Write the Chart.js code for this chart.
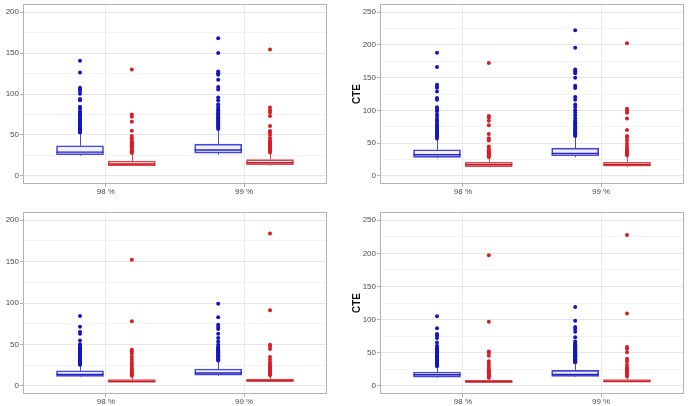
<!DOCTYPE html>
<html>
<head>
<meta charset="utf-8">
<script src="https://cdn.jsdelivr.net/npm/chart.js@4.4.1/dist/chart.umd.min.js"></script>
<style>
    body { margin: 0; width: 688px; height: 406px; background: #fff; position: relative; overflow: hidden; }
    .panel { position: absolute; }
</style>
</head>
<body>
<div class="panel" style="left:-13px;top:0"><canvas id="varTop" width="357" height="203"></canvas></div>
<div class="panel" style="left:344px;top:0"><canvas id="cteTop" width="344" height="203"></canvas></div>
<div class="panel" style="left:-13px;top:203px"><canvas id="varBottom" width="357" height="203"></canvas></div>
<div class="panel" style="left:344px;top:203px"><canvas id="cteBottom" width="344" height="203"></canvas></div>
<script>
// categories
const levels = ['98 %', '99 %'];
const yTicksVar = [0, 50, 100, 150, 200];
const yMinorVar = [25, 75, 125, 175];
const yTicksCte = [0, 50, 100, 150, 200, 250];
const yMinorCte = [25, 75, 125, 175, 225];

// box stats per level: [lower whisker, q1, median, q3, upper whisker]
const varTopBlue = [[24.6, 25.8, 29, 36.7, 51], [25.8, 27.8, 31.5, 38.7, 55]];
const varTopRed = [[11.7, 12.5, 14.5, 18.1, 27], [12.5, 13.7, 16.1, 19.8, 27.5]];
const varTopBlueOut98 = [140.7, 126.2, 107.7, 105.6, 103.6, 100.4, 94, 92.3, 84.3, 82.3, 79, 77, 75.5, 74, 72.5, 71.4, 70, 69, 67.3, 66, 65, 64, 63, 62, 61, 60, 59, 58, 57, 56, 55, 54, 53.5, 52.8];
const varTopBlueOut99 = [168, 150, 127.4, 125.4, 123.4, 117.3, 108.5, 105.6, 95.6, 92.3, 87.5, 84.3, 82, 80.2, 78, 76.2, 74.5, 73, 71.5, 70, 68.5, 67.3, 65.5, 64, 62.5, 61.3, 60, 58.9, 57.3];
const varTopRedOut98 = [129.8, 75, 72.2, 66, 55, 48.8, 46, 43, 40.7, 40, 39, 38, 37, 36, 34.5, 33, 31.5, 30, 29, 28];
const varTopRedOut99 = [154.4, 83.5, 80.2, 77.4, 73, 60.9, 54.8, 52.8, 50, 46, 43, 41.5, 40.7, 39, 38, 36, 34, 32, 30, 28.6];

const cteTopBlue = [[26.7, 28.2, 32.3, 39.8, 55], [28.7, 30.7, 34.3, 42.3, 59]];
const cteTopRed = [[13.1, 14.1, 17.1, 20.7, 28], [13.1, 14.6, 17.1, 20.7, 30]];
const cteTopBlueOut98 = [188, 166.3, 139, 136.6, 134.6, 129, 119, 116.4, 104.8, 101.8, 98.8, 93.8, 90.2, 86.2, 84, 82.7, 79.1, 77, 75.1, 73, 71.6, 69, 67.5, 66, 64, 62, 60, 57];
const cteTopBlueOut99 = [222.3, 195.6, 162.3, 159.8, 156.8, 149.7, 137.6, 134.1, 120.5, 116.4, 108.9, 105.3, 100.3, 96.3, 92.2, 87.7, 84.2, 82, 80.1, 78, 76.1, 74, 72.1, 70, 68.5, 67, 65, 63, 61];
const cteTopRedOut98 = [172.4, 91.2, 89.2, 84.2, 77.1, 64, 57.5, 54, 44.9, 41.3, 39, 37.3, 35.5, 34, 32.5, 31, 29.5, 28.7];
const cteTopRedOut99 = [202.6, 102.3, 99.8, 96.3, 87.7, 70.1, 61, 58.5, 54, 49, 44.9, 41.3, 39, 37.3, 35.5, 34, 32.5, 31.3];

const varBottomBlue = [[10.5, 11.3, 13.7, 18.1, 24.5], [12.1, 12.9, 15.3, 20.2, 29.5]];
const varBottomRed = [[3.8, 4.4, 5.2, 7.3, 11], [4.6, 5.2, 6, 8.1, 11.8]];
const varBottomBlueOut98 = [84.3, 71.4, 65, 62.9, 54.8, 50, 48, 47, 46, 45, 44, 43, 42, 41, 40, 39, 38, 37, 36.5, 35, 34, 33.5, 32, 31, 30.5, 29, 28, 27.5, 26, 25.3];
const varBottomBlueOut99 = [99.2, 82.7, 73.8, 71, 68.5, 62.9, 57.7, 53.6, 49.6, 46.8, 45.5, 44.5, 43.5, 42.5, 41.5, 40.5, 39.5, 38.5, 37.5, 36.5, 35, 34, 33.5, 32, 31, 30.6];
const varBottomRedOut98 = [152.4, 77.8, 43.5, 41.5, 38.7, 34.7, 31.5, 28.2, 25.4, 22.6, 20.2, 19, 17.3, 16, 14.5, 13.3, 12.1];
const varBottomRedOut99 = [183.9, 91.1, 49.6, 47.6, 44.4, 34.7, 31.5, 28.2, 26, 23.4, 22, 20.2, 19, 17.3, 16, 14.5, 13.5, 12.6];

const cteBottomBlue = [[12.1, 13.1, 16.6, 20.7, 28.5], [13.1, 14.1, 17.1, 23.2, 34]];
const cteBottomRed = [[4.3, 5, 6, 8.1, 11], [4.8, 5.5, 6.6, 9.1, 13.5]];
const cteBottomBlueOut98 = [104.8, 86.7, 78.1, 75.6, 72.1, 65.5, 60.5, 57, 56, 55, 54, 53, 52, 51, 50, 49, 48, 47, 46, 45, 44, 43, 42, 41, 40, 39, 38, 37, 36, 35, 34, 33, 32, 31, 29.5];
const cteBottomBlueOut99 = [119, 98.3, 88.7, 85.7, 81.7, 73.1, 67, 64.5, 63, 62, 61, 60, 59, 58, 57, 56, 55, 54, 53, 52, 51, 50, 49, 48, 47, 46, 45, 44, 43, 42, 41, 40, 39, 38, 37, 36, 35.3];
const cteBottomRedOut98 = [197.1, 96.8, 51.9, 49.4, 45.4, 36.8, 33.3, 29.2, 25.2, 23, 21.7, 20, 18.1, 16.5, 15.1, 13.5, 11.9];
const cteBottomRedOut99 = [227.8, 109, 58.5, 56, 50.4, 40.8, 36.8, 31.8, 27.7, 26, 24.2, 22, 20.2, 18.5, 16.6, 14.2];

const BLUE = { point: '#1414c8', border: '#4646dc', fill: 'rgba(70,70,220,0.08)', median: '#2424b4' };
const RED = { point: '#dc1c24', border: '#e0464b', fill: 'rgba(224,70,75,0.08)', median: '#c41c24' };

// whiskers go under the boxes, medians and the panel frame on top
const boxParts = {
    id: 'boxParts',
    beforeDatasetsDraw(chart) {
        const { ctx, scales: { y } } = chart;
        chart.data.datasets.forEach((ds, i) => {
            if (!ds.stats) return;
            chart.getDatasetMeta(i).data.forEach((el, j) => {
                const s = ds.stats[j];
                const x = Math.round(el.x) + 0.5;
                ctx.save();
                ctx.strokeStyle = ds.borderColor;
                ctx.lineWidth = 1;
                ctx.beginPath();
                ctx.moveTo(x, y.getPixelForValue(s[0]));
                ctx.lineTo(x, y.getPixelForValue(s[1]));
                ctx.moveTo(x, y.getPixelForValue(s[3]));
                ctx.lineTo(x, y.getPixelForValue(s[4]));
                ctx.stroke();
                ctx.restore();
            });
        });
    },
    afterDatasetsDraw(chart) {
        const { ctx, chartArea: a, scales: { y } } = chart;
        chart.data.datasets.forEach((ds, i) => {
            if (!ds.stats) return;
            chart.getDatasetMeta(i).data.forEach((el, j) => {
                const my = y.getPixelForValue(ds.stats[j][2]);
                ctx.save();
                ctx.strokeStyle = ds.medianColor;
                ctx.lineWidth = 1.4;
                ctx.beginPath();
                ctx.moveTo(el.x - el.width / 2, my);
                ctx.lineTo(el.x + el.width / 2, my);
                ctx.stroke();
                ctx.restore();
            });
        });
        ctx.save();
        ctx.strokeStyle = '#b3b3b3';
        ctx.lineWidth = 1;
        ctx.strokeRect(Math.round(a.left) + 0.5, Math.round(a.top) + 0.5,
            Math.round(a.width) - 1, Math.round(a.height) - 1);
        ctx.restore();
    }
};

function buildDatasets(blueStats, redStats, blueOut, redOut) {
    const dodge = 0.1875;
    const sets = [];
    [[blueStats, blueOut, BLUE, -dodge], [redStats, redOut, RED, dodge]].forEach(([stats, outs, c, dx]) => {
        sets.push({
            type: 'bar',
            data: stats.map((s, k) => ({ x: k + 1 + dx, y: [s[1], s[3]] })),
            stats: stats,
            medianColor: c.median,
            backgroundColor: c.fill,
            borderColor: c.border,
            borderWidth: 1,
            borderSkipped: false,
            grouped: false,
            barThickness: 47
        });
        sets.push({
            type: 'scatter',
            data: outs.flatMap((vals, k) => vals.map(v => ({ x: k + 1 + dx, y: v }))),
            backgroundColor: c.point,
            borderWidth: 0,
            pointRadius: 2
        });
    });
    return sets;
}

function makePanel(id, area, yMax, majors, minors, title, titlePad, datasets) {
    const canvas = document.getElementById(id);
    const W = canvas.width, H = canvas.height;
    const yTicks = majors.concat(minors).sort((a, b) => a - b);
    const isMajor = v => majors.includes(v);
    new Chart(canvas, {
        type: 'bar',
        data: { datasets: datasets },
        options: {
            responsive: false,
            animation: false,
            devicePixelRatio: 1,
            layout: { padding: { top: area.top, right: W - area.right, left: 0, bottom: 0 } },
            plugins: { legend: { display: false }, tooltip: { enabled: false } },
            scales: {
                x: {
                    type: 'linear',
                    min: 0.4,
                    max: 2.6,
                    offset: false,
                    afterBuildTicks: s => { s.ticks = levels.map((l, k) => ({ value: k + 1 })); },
                    afterFit: s => {
                        s.height = H - area.bottom;
                        s.paddingLeft = s.paddingRight = s.paddingTop = s.paddingBottom = 0;
                    },
                    ticks: {
                        autoSkip: false,
                        maxRotation: 0,
                        padding: 0,
                        color: '#4d4d4d',
                        font: { family: 'Liberation Sans', size: 8 },
                        callback: v => levels[v - 1]
                    },
                    grid: { offset: false, color: '#ebebeb', tickColor: '#b3b3b3', tickLength: 3, lineWidth: 1 },
                    border: { display: false }
                },
                y: {
                    min: -yMax * 0.05,
                    max: yMax * 1.05,
                    afterBuildTicks: s => { s.ticks = yTicks.map(v => ({ value: v })); },
                    afterFit: s => {
                        s.width = area.left;
                        s.paddingLeft = s.paddingRight = s.paddingTop = s.paddingBottom = 0;
                    },
                    ticks: {
                        autoSkip: false,
                        padding: 1,
                        color: '#4d4d4d',
                        font: { family: 'Liberation Sans', size: 8 },
                        callback: v => isMajor(v) ? String(v) : ''
                    },
                    grid: {
                        color: c => isMajor(c.tick.value) ? '#e6e6e6' : '#f3f3f3',
                        tickColor: c => isMajor(c.tick.value) ? '#b3b3b3' : 'rgba(0,0,0,0)',
                        tickLength: 3,
                        lineWidth: 1
                    },
                    border: { display: false },
                    title: {
                        display: true,
                        text: title,
                        color: '#111',
                        font: { family: 'Liberation Sans', size: 10, weight: 'bold' },
                        padding: { top: titlePad, bottom: 0 }
                    }
                }
            }
        },
        plugins: [boxParts]
    });
}

makePanel('varTop', { left: 36, right: 340, top: 3, bottom: 184 }, 200, yTicksVar, yMinorVar, 'Value at Risk', 4.5,
    buildDatasets(varTopBlue, varTopRed, [varTopBlueOut98, varTopBlueOut99], [varTopRedOut98, varTopRedOut99]));
makePanel('cteTop', { left: 36, right: 341, top: 3, bottom: 184 }, 250, yTicksCte, yMinorCte, 'CTE', 7,
    buildDatasets(cteTopBlue, cteTopRed, [cteTopBlueOut98, cteTopBlueOut99], [cteTopRedOut98, cteTopRedOut99]));
makePanel('varBottom', { left: 36, right: 340, top: 9, bottom: 191 }, 200, yTicksVar, yMinorVar, 'Value at Risk', 4.5,
    buildDatasets(varBottomBlue, varBottomRed, [varBottomBlueOut98, varBottomBlueOut99], [varBottomRedOut98, varBottomRedOut99]));
makePanel('cteBottom', { left: 36, right: 341, top: 9, bottom: 191 }, 250, yTicksCte, yMinorCte, 'CTE', 7,
    buildDatasets(cteBottomBlue, cteBottomRed, [cteBottomBlueOut98, cteBottomBlueOut99], [cteBottomRedOut98, cteBottomRedOut99]));
</script>
</body>
</html>
